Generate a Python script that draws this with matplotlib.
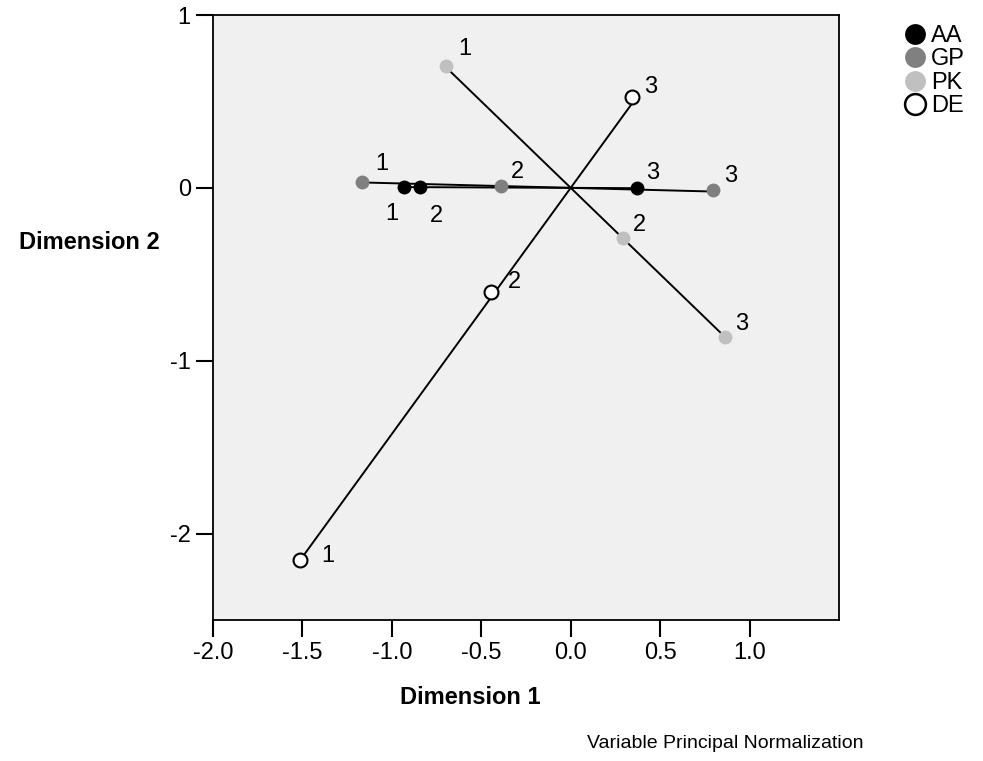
import numpy as np
import matplotlib.pyplot as plt
from matplotlib.lines import Line2D

plt.rcParams['font.family'] = ['Liberation Sans', 'DejaVu Sans']
plt.rcParams['axes.unicode_minus'] = False

# category points (dimension 1, dimension 2) per variable
variables = ['AA', 'GP', 'PK', 'DE']
categories = ['1', '2', '3']
aa_x = [-0.93, -0.845, 0.37]
aa_y = [0.005, 0.004, -0.001]
gp_x = [-1.165, -0.388, 0.793]
gp_y = [0.035, 0.012, -0.015]
pk_x = [-0.70, 0.295, 0.862]
pk_y = [0.705, -0.29, -0.86]
de_x = [-1.511, -0.447, 0.345]
de_y = [-2.153, -0.604, 0.523]

x_ticks = [-2.0, -1.5, -1.0, -0.5, 0.0, 0.5, 1.0]
y_ticks = [-2, -1, 0, 1]

points = {'AA': (aa_x, aa_y), 'GP': (gp_x, gp_y), 'PK': (pk_x, pk_y), 'DE': (de_x, de_y)}
face = {'AA': 'black', 'GP': '#808080', 'PK': '#c0c0c0', 'DE': 'white'}
edge = {'AA': 'black', 'GP': '#808080', 'PK': '#c0c0c0', 'DE': 'black'}
# label offsets in pixels (dx, dy) from each point
offsets = {
    'AA': [(-13, -27), (17, -29), (16, 15)],
    'GP': [(19, 18), (16, 14), (18, 14)],
    'PK': [(19, 17), (16, 13), (17, 13)],
    'DE': [(27, 4), (24, 10), (18, 10)],
}

fig = plt.figure(figsize=(9.83, 7.61), dpi=100)
ax = fig.add_axes([213 / 983, 1 - 620 / 761, 626 / 983, 605 / 761])
ax.set_facecolor('#f0f0f0')

# vector line through the origin for each variable
for v in variables:
    x, y = points[v]
    P = np.column_stack([x, y])
    d = np.linalg.svd(P)[2][0]
    t = P @ d
    ends = np.outer([t.min(), t.max()], d)
    ax.plot(ends[:, 0], ends[:, 1], color='black', lw=1.4, zorder=2)

for v in variables:
    x, y = points[v]
    ax.plot(x, y, 'o', ms=10, mfc=face[v], mec=edge[v],
            mew=1.5 if v == 'DE' else 0, zorder=3)
    for i, c in enumerate(categories):
        ax.annotate(c, (x[i], y[i]), xytext=offsets[v][i], textcoords='offset pixels',
                    ha='center', va='center', fontsize=17)

ax.set_xlim(-2.0, 1.5)
ax.set_ylim(-2.5, 1.0)
ax.set_xticks(x_ticks)
ax.set_xticklabels(['%.1f' % t for t in x_ticks])
ax.set_yticks(y_ticks)
ax.set_yticklabels([str(t) for t in y_ticks])
ax.tick_params(direction='out', length=12, width=1.5, labelsize=17, pad=4)
for s in ax.spines.values():
    s.set_linewidth(1.3)

fig.text(89 / 983, 1 - 242 / 761, 'Dimension 2', ha='center', va='center',
         fontsize=17, fontweight='bold')
fig.text(470 / 983, 1 - 698 / 761, 'Dimension 1', ha='center', va='center',
         fontsize=17, fontweight='bold')
fig.text(725 / 983, 1 - 743 / 761, 'Variable Principal Normalization',
         ha='center', va='center', fontsize=14)

handles = [Line2D([], [], ls='none', marker='o', ms=15, mfc=face[v], mec=edge[v],
                  mew=1.8 if v == 'DE' else 0) for v in variables]
fig.legend(handles, variables, loc='upper left', bbox_to_anchor=(903 / 983, 1 - 25 / 761),
           frameon=False, fontsize=17, handletextpad=0.2, labelspacing=0.06,
           handlelength=1.0, borderpad=0, borderaxespad=0)

fig.savefig('out.png', dpi=100)
